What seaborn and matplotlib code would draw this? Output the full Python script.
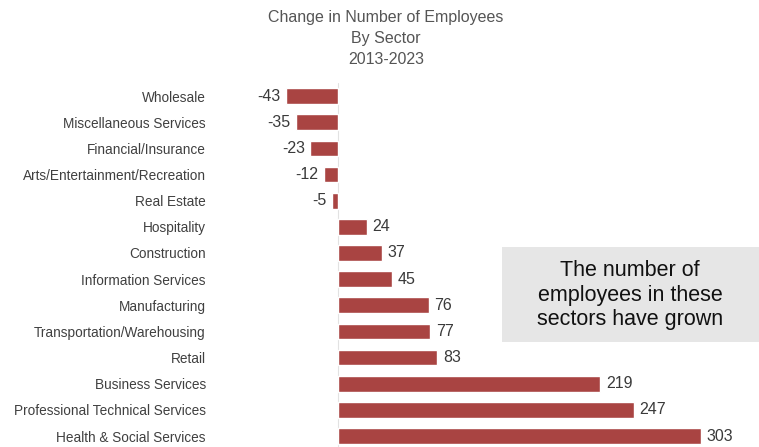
import matplotlib
matplotlib.use("Agg")
import matplotlib.pyplot as plt
import seaborn as sns
import pandas as pd
from matplotlib.patches import Rectangle

# data
sectors = ["Wholesale", "Miscellaneous Services", "Financial/Insurance",
           "Arts/Entertainment/Recreation", "Real Estate", "Hospitality",
           "Construction", "Information Services", "Manufacturing",
           "Transportation/Warehousing", "Retail", "Business Services",
           "Professional Technical Services", "Health & Social Services"]
change = [-43, -35, -23, -12, -5, 24, 37, 45, 76, 77, 83, 219, 247, 303]

df = pd.DataFrame({"Sector": sectors, "Change": change})

sns.set_style("white")
plt.rcParams["font.family"] = ["Liberation Sans", "DejaVu Sans"]

fig = plt.figure(figsize=(7.59, 4.47), dpi=100)
ax = fig.add_axes([278 / 759, 0, 481 / 759, 364 / 447])

sns.barplot(data=df, y="Sector", x="Change", color="#a94442", width=0.6,
            saturation=1, ax=ax, orient="h")
ax.axvline(0, color="#e2e2e2", lw=0.8, zorder=0)

for c in ax.containers:
    ax.bar_label(c, labels=[str(v) for v in change], padding=4,
                 fontsize=11.5, color="#3a3a3a")

ax.set_xlim(-50, 351.5)
ax.set_ylim(13.42, -0.5)
ax.set_xlabel("")
ax.set_ylabel("")
ax.set_xticks([])
ax.tick_params(axis="y", length=0, pad=52, labelsize=9.8, labelcolor="#404040")
sns.despine(ax=ax, left=True, bottom=True)

fig.text(386 / 759, 1 - 10 / 447, "Change in Number of Employees\nBy Sector\n2013-2023",
         ha="center", va="top", fontsize=11.5, color="#555555", linespacing=1.5)

fig.patches.append(Rectangle((502 / 759, 1 - 342 / 447), 257 / 759, 95 / 447,
                             transform=fig.transFigure, fc="#e6e6e6", ec="none"))
fig.text(630 / 759, 1 - 295 / 447, "The number of\nemployees in these\nsectors have grown",
         ha="center", va="center", fontsize=15.5, color="#111111", linespacing=1.2)

fig.savefig("out.png", dpi=100)
